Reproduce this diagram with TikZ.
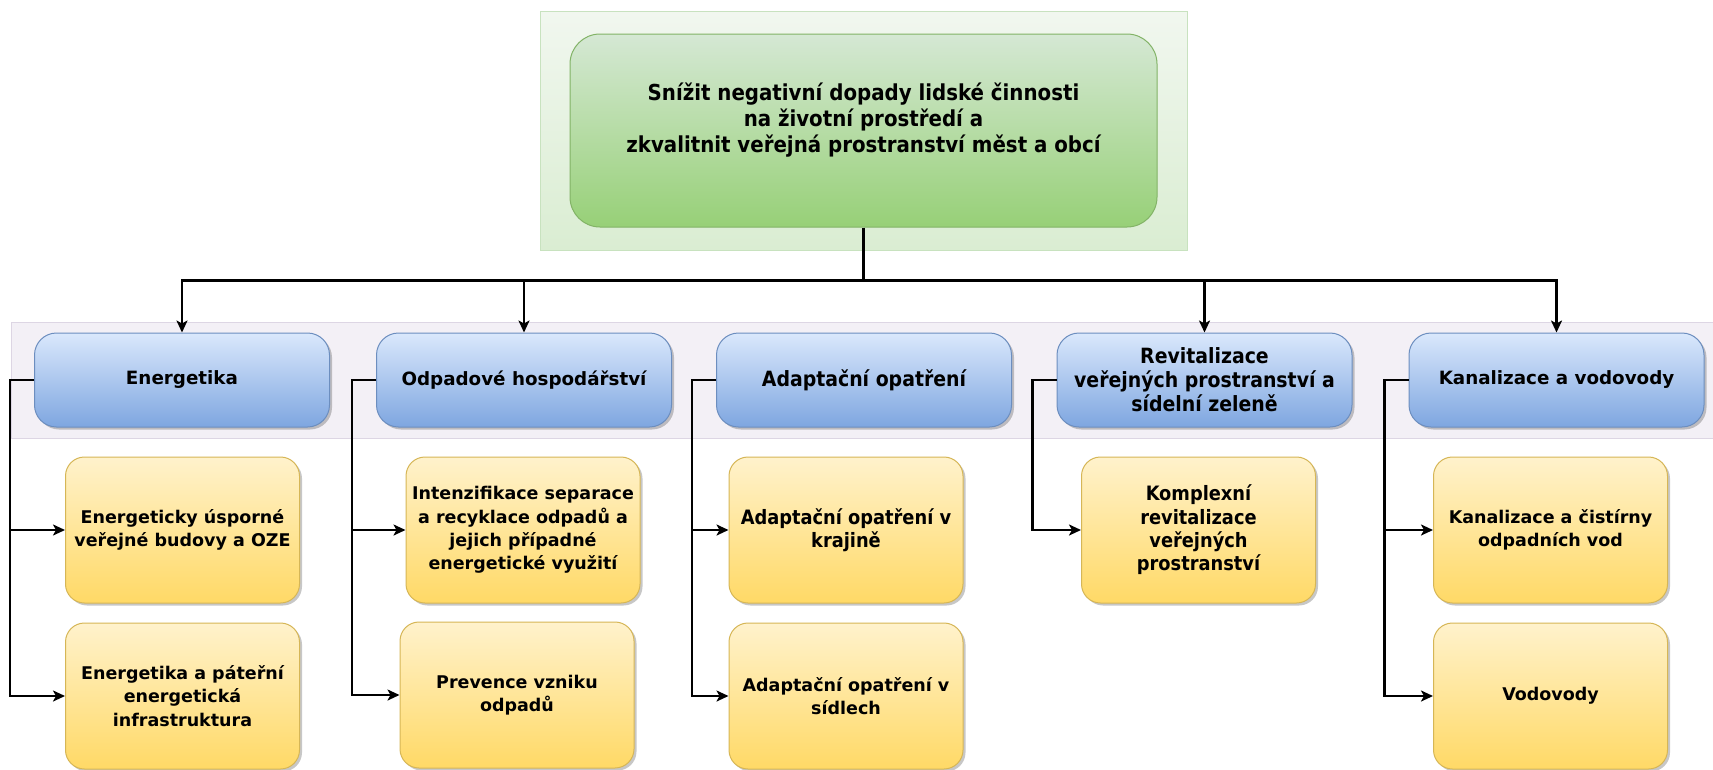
\documentclass[tikz,border=0pt]{standalone}
\usepackage{fontspec}
\setmainfont{DejaVu Sans}
\newfontfamily\narrowfont{DejaVu Sans Condensed}
\usepackage{tikz}
\usetikzlibrary{positioning}
\usetikzlibrary{arrows.meta}
\usetikzlibrary{shadows}

\definecolor{blueTop}{HTML}{DAE8FC}
\definecolor{blueBot}{HTML}{7EA6E0}
\definecolor{blueLine}{HTML}{6C8EBF}
\definecolor{yelTop}{HTML}{FFF2CC}
\definecolor{yelBot}{HTML}{FFD966}
\definecolor{yelLine}{HTML}{D6B656}
\definecolor{grnTop}{HTML}{D5E8D4}
\definecolor{grnBot}{HTML}{97D077}
\definecolor{grnLine}{HTML}{82B366}
\definecolor{paleTop}{HTML}{F1F7EF}
\definecolor{paleBot}{HTML}{DAEDD2}
\definecolor{paleLine}{HTML}{C8E2BF}
\definecolor{bandFill}{HTML}{F3F0F6}
\definecolor{bandLine}{HTML}{DDD6E4}

\tikzset{box shadow/.style={drop shadow={shadow xshift=2.5pt,shadow yshift=-2.5pt,opacity=0.22,fill=black}},
    blue node/.style={rectangle,rounded corners=22pt,draw=blueLine,line width=1pt,top color=blueTop,bottom color=blueBot,minimum width=295pt,minimum height=94pt,align=center,font=\bfseries\fontsize{18.3}{24}\selectfont,box shadow},
    yellow node/.style={rectangle,rounded corners=19pt,draw=yelLine,line width=1pt,top color=yelTop,bottom color=yelBot,minimum width=234pt,minimum height=146pt,align=center,font=\bfseries\fontsize{17.5}{23.4}\selectfont,box shadow},
    goal node/.style={rectangle,rounded corners=30pt,draw=grnLine,line width=1pt,top color=grnTop,bottom color=grnBot,minimum width=587pt,minimum height=193pt,align=center},
    narrow/.style 2 args={execute at begin node={\narrowfont\bfseries\fontsize{#1}{#2}\selectfont}},
    wire/.style={draw,black,line width=2.8pt},
}

\begin{document}
\begin{tikzpicture}[x=1pt,y=-1pt,>={Stealth[length=12pt,width=11pt,inset=3pt]}]
    \useasboundingbox (0,0) rectangle (1713,769);
    \fill[white] (0,0) rectangle (1713,769);

    % backgrounds
    \draw[paleLine,line width=1pt,top color=paleTop,bottom color=paleBot] (540,11) rectangle (1187,250);
    \draw[bandLine,line width=1pt,fill=bandFill] (11,322) rectangle (1730,438);

    \node[goal node,narrow={22}{26}] (goal) at (863.5,130.5) {Snížit negativní dopady lidské činnosti\\na životní prostředí a\\zkvalitnit veřejná prostranství měst a obcí\\~};

    % themes
    \node[blue node] (ene) at (182,380) {Energetika};
    \node[blue node] (odp) at (524,380) {Odpadové hospodářství};
    \node[blue node,narrow={21}{24}] (ada) at (864,380) {Adaptační opatření};
    \node[blue node,narrow={21}{24}] (rev) at (1204.5,380) {Revitalizace\\veřejných prostranství a\\sídelní zeleně};
    \node[blue node] (kan) at (1556.5,380) {Kanalizace a vodovody};

    % measures
    \node[yellow node] (ene1) at (182.5,530) {Energeticky úsporné\\veřejné budovy a OZE};
    \node[yellow node] (ene2) [below=19pt of ene1] {Energetika a páteřní\\energetická\\infrastruktura};
    \node[yellow node] (odp1) at (523,530) {Intenzifikace separace\\a recyklace odpadů a\\jejich případné\\energetické využití};
    \node[yellow node] (odp2) at (517,695) {Prevence vzniku\\odpadů};
    \node[yellow node,narrow={19.8}{23.4}] (ada1) at (846,530) {Adaptační opatření v\\krajině};
    \node[yellow node] (ada2) [below=19pt of ada1] {Adaptační opatření v\\sídlech};
    \node[yellow node,narrow={19.8}{23.4}] (rev1) at (1198.5,530) {Komplexní\\revitalizace\\veřejných\\prostranství};
    \node[yellow node] (kan1) at (1550.5,530) {Kanalizace a čistírny\\odpadních vod};
    \node[yellow node] (kan2) [below=19pt of kan1] {Vodovody};

    % tree
    \path (goal.south) ++(0,53) coordinate (bus);
    \draw[wire] (goal.south) -- (bus);
    \draw[wire,->] (bus) -| (ene);
    \draw[wire,->] (bus) -| (odp);
    \draw[wire,->] (bus) -| (rev);
    \draw[wire,->] (bus) -| (kan);

    \draw[wire,->] (ene.west) -- ++(-24,0) |- (ene1.west);
    \draw[wire,->] (ene.west) -- ++(-24,0) |- (ene2.west);
    \draw[wire,->] (odp.west) -- ++(-24,0) |- (odp1.west);
    \draw[wire,->] (odp.west) -- ++(-24,0) |- (odp2.west);
    \draw[wire,->] (ada.west) -- ++(-24,0) |- (ada1.west);
    \draw[wire,->] (ada.west) -- ++(-24,0) |- (ada2.west);
    \draw[wire,->] (rev.west) -- ++(-24,0) |- (rev1.west);
    \draw[wire,->] (kan.west) -- ++(-24,0) |- (kan1.west);
    \draw[wire,->] (kan.west) -- ++(-24,0) |- (kan2.west);
\end{tikzpicture}
\end{document}
